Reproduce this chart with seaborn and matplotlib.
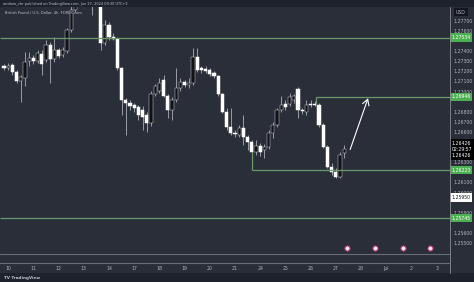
import matplotlib
matplotlib.use("Agg")
import matplotlib.pyplot as plt
import matplotlib.transforms as mtransforms
import numpy as np
import pandas as pd
import seaborn as sns

# ---------------- data ----------------
opens = [1.2725, 1.2723, 1.2726, 1.2719, 1.2710, 1.2713, 1.2730, 1.2733, 1.2730, 1.2737,
         1.2731, 1.2746, 1.2732, 1.2741, 1.2736, 1.2740, 1.2761, 1.2781, 1.2806, 1.2796,
         1.2820, 1.2801, 1.2791, 1.2810, 1.2748, 1.2766, 1.2754, 1.2752, 1.2723, 1.2692,
         1.2689, 1.2687, 1.2685, 1.2682, 1.2677, 1.2669, 1.2698, 1.2701, 1.2711, 1.2696,
         1.2682, 1.2692, 1.2703, 1.2709, 1.2706, 1.2708, 1.2734, 1.2723, 1.2722, 1.2721,
         1.2718, 1.2715, 1.2698, 1.2680, 1.2665, 1.2659, 1.2657, 1.2664, 1.2655, 1.2650,
         1.2640, 1.2646, 1.2642, 1.2645, 1.2659, 1.2667, 1.2682, 1.2688, 1.2688, 1.2692,
         1.2702, 1.2682, 1.2680, 1.2688, 1.2688, 1.2687, 1.2667, 1.2645, 1.2625, 1.2620,
         1.2615, 1.2639]
closes = [1.2723, 1.2725, 1.2719, 1.2710, 1.2714, 1.2729, 1.2733, 1.2730, 1.2738, 1.2727,
          1.2746, 1.2732, 1.2741, 1.2735, 1.2741, 1.2761, 1.2781, 1.2806, 1.2796, 1.2820,
          1.2801, 1.2786, 1.2810, 1.2748, 1.2766, 1.2754, 1.2752, 1.2723, 1.2692, 1.2689,
          1.2686, 1.2684, 1.2677, 1.2675, 1.2669, 1.2698, 1.2705, 1.2708, 1.2696, 1.2682,
          1.2692, 1.2703, 1.2709, 1.2706, 1.2708, 1.2734, 1.2721, 1.2721, 1.2720, 1.2717,
          1.2715, 1.2698, 1.2680, 1.2665, 1.2659, 1.2658, 1.2664, 1.2655, 1.2650, 1.2640,
          1.2646, 1.2640, 1.2645, 1.2659, 1.2667, 1.2682, 1.2687, 1.2685, 1.2695, 1.2696,
          1.2682, 1.2681, 1.2687, 1.2687, 1.2687, 1.2667, 1.2645, 1.2625, 1.2620, 1.2615,
          1.2637, 1.2643]
highs = [1.2727, 1.2728, 1.2728, 1.2721, 1.2716, 1.2739, 1.2739, 1.2736, 1.2741, 1.2741,
         1.2751, 1.2749, 1.2754, 1.2743, 1.2744, 1.2763, 1.2786, 1.2810, 1.2815, 1.2830,
         1.2835, 1.2806, 1.2820, 1.2815, 1.2771, 1.2769, 1.2758, 1.2754, 1.2724, 1.2694,
         1.2692, 1.2689, 1.2687, 1.2686, 1.2680, 1.2701, 1.2707, 1.2713, 1.2716, 1.2698,
         1.2695, 1.2723, 1.2713, 1.2711, 1.2713, 1.2743, 1.2743, 1.2725, 1.2725, 1.2723,
         1.2720, 1.2716, 1.2699, 1.2684, 1.2684, 1.2662, 1.2667, 1.2677, 1.2657, 1.2652,
         1.2652, 1.2649, 1.2648, 1.2662, 1.2670, 1.2684, 1.2696, 1.2692, 1.2699, 1.2698,
         1.2704, 1.2684, 1.2692, 1.2692, 1.2691, 1.2689, 1.2669, 1.2647, 1.2629, 1.2624,
         1.2640, 1.2647]
lows = [1.2721, 1.2721, 1.2716, 1.2708, 1.2690, 1.2705, 1.2725, 1.2727, 1.2728, 1.2716,
        1.2729, 1.2708, 1.2729, 1.2733, 1.2734, 1.2738, 1.2759, 1.2779, 1.2791, 1.2794,
        1.2793, 1.2776, 1.2788, 1.2741, 1.2746, 1.2751, 1.2751, 1.2721, 1.2677, 1.2657,
        1.2682, 1.2680, 1.2672, 1.2662, 1.2660, 1.2666, 1.2696, 1.2699, 1.2695, 1.2674,
        1.2672, 1.2690, 1.2701, 1.2704, 1.2703, 1.2706, 1.2719, 1.2718, 1.2718, 1.2715,
        1.2713, 1.2696, 1.2679, 1.2662, 1.2657, 1.2655, 1.2655, 1.2647, 1.2642, 1.2634,
        1.2637, 1.2636, 1.2634, 1.2643, 1.2654, 1.2665, 1.2680, 1.2682, 1.2686, 1.2689,
        1.2674, 1.2678, 1.2677, 1.2685, 1.2686, 1.2665, 1.2644, 1.2624, 1.2617, 1.2614,
        1.2614, 1.2634]

day_labels = ["10", "11", "12", "13", "14", "17", "18", "19", "20", "21",
              "24", "25", "26", "27", "28", "Jul", "2", "3"]
price_ticks = [1.255, 1.256, 1.258, 1.260, 1.261, 1.263,
               1.266, 1.267, 1.268, 1.270, 1.271, 1.272, 1.273, 1.274,
               1.276, 1.277]
levels = [1.27534, 1.26946, 1.26223, 1.25745]
level_starts = [-1.0, 74.3, 59.0, -1.0]
current_price = 1.26426
countdown = "02:29:57"
white_label = 1.25950
bottom_line = 1.25391
event_bars = [81.6, 88.3, 95.0, 101.4]
arrow_from = (82.2, 1.2640)
arrow_to = (86.9, 1.2696)

# ---------------- styling ----------------
sns.set_theme(style="dark")
plt.rcParams['font.family'] = ['DejaVu Sans']

BG = '#2a2e39'
DARK = '#1e222d'
TXT = '#b2b5be'
GREEN_LINE = '#6b9a6b'
GREEN_BOX = '#4caf50'

W, H = 474, 282
fig = plt.figure(figsize=(W / 100, H / 100), dpi=100)
fig.patch.set_facecolor(BG)

# header and footer bands
fig.patches.append(plt.Rectangle((0, 1 - 7 / H), 1, 7 / H, transform=fig.transFigure,
                                 facecolor=DARK, edgecolor='none', zorder=0))
fig.patches.append(plt.Rectangle((0, 0), 1, 9 / H, transform=fig.transFigure,
                                 facecolor=DARK, edgecolor='none', zorder=0))

ax = fig.add_axes([0, (H - 263) / H, 450 / W, (263 - 7) / H])
ax.set_facecolor(BG)

n = len(opens)
df = pd.DataFrame({"idx": np.arange(n), "open": opens, "close": closes,
                   "high": highs, "low": lows})
df["up"] = df["close"] >= df["open"]

# wicks
ax.vlines(df["idx"], df["low"], df["high"], color='#9a9da6', lw=0.7, zorder=2)
# bodies
bw = 0.72
for _, r in df.iterrows():
    lo = min(r.open, r.close)
    h = max(abs(r.close - r.open), 0.00008)
    if r.up:
        ax.add_patch(plt.Rectangle((r.idx - bw / 2, lo), bw, h, facecolor='#101216',
                                   edgecolor='#c8cad0', lw=0.35, zorder=3))
    else:
        ax.add_patch(plt.Rectangle((r.idx - bw / 2, lo), bw, h, facecolor='#ffffff',
                                   edgecolor='#ffffff', lw=0.35, zorder=3))

xmin, xmax = (0 - 4) / 4.2, (450 - 4) / 4.2
ymax = 1.27906 - 0.000099 * 7
ymin = 1.27906 - 0.000099 * 263
ax.set_xlim(xmin, xmax)
ax.set_ylim(ymin, ymax)

# horizontal levels
for lv, st in zip(levels, level_starts):
    ax.hlines(lv, st, xmax + 1, color=GREEN_LINE, lw=0.9, zorder=4)
# small vertical connectors on the partial levels
ax.vlines(59.0, levels[2], 1.2640, color=GREEN_LINE, lw=0.9, zorder=4)
ax.vlines(74.3, levels[1], 1.2688, color=GREEN_LINE, lw=0.9, zorder=4)

ax.axhline(bottom_line, color='#6a6d78', lw=0.8, zorder=1)

# arrow
ax.annotate("", xy=arrow_to, xytext=arrow_from,
            arrowprops=dict(arrowstyle='->,head_length=0.35,head_width=0.2',
                            color='white', lw=0.8), zorder=6)

# event markers
ev = pd.DataFrame({"x": event_bars, "y": [bottom_line + 0.00055] * len(event_bars)})
sns.scatterplot(data=ev, x="x", y="y", ax=ax, s=14, color='#f3e6ee',
                edgecolor='#b0306a', linewidth=0.8, zorder=7, legend=False)
ax.set_xlabel("")
ax.set_ylabel("")

# axes ticks
ax.yaxis.tick_right()
ax.set_yticks(price_ticks)
ax.set_yticklabels([f"{p:.5f}" for p in price_ticks])
ax.tick_params(axis='y', length=0, pad=2.5, labelsize=3.3, labelcolor=TXT)
day_pos = [1 + 6 * k for k in range(len(day_labels))]
ax.set_xticks(day_pos)
ax.set_xticklabels(day_labels)
ax.tick_params(axis='x', length=0, pad=2.4, labelsize=3.3, labelcolor=TXT)
ax.grid(False)
for s in ax.spines.values():
    s.set_visible(False)

# separators
fig.add_artist(plt.Line2D([450 / W, 450 / W], [9 / H, 1 - 7 / H], transform=fig.transFigure,
                          color='#8a8d96', lw=0.6))
fig.add_artist(plt.Line2D([0, 450 / W], [(H - 263) / H] * 2, transform=fig.transFigure,
                          color='#6a6d78', lw=0.8))

# price labels on the axis
trans = mtransforms.blended_transform_factory(ax.transAxes, ax.transData)
for lv in levels:
    ax.text(1.003, lv, f"{lv:.5f}", transform=trans, ha='left', va='center',
            fontsize=3.3, color='white', clip_on=False, zorder=10,
            bbox=dict(boxstyle='square,pad=0.35', fc=GREEN_BOX, ec='none'))
ax.text(1.003, current_price, f"{current_price:.5f}\n{countdown}\n{current_price:.5f}",
        transform=trans, ha='left', va='center', fontsize=3.3, color='white',
        clip_on=False, zorder=10, linespacing=1.25,
        bbox=dict(boxstyle='square,pad=0.4', fc='#000000', ec='none'))
ax.text(1.003, white_label, f"{white_label:.5f}", transform=trans, ha='left', va='center',
        fontsize=3.3, color='#131722', clip_on=False, zorder=10,
        bbox=dict(boxstyle='square,pad=0.35', fc='white', ec='none'))
fig.text(456 / W, 1 - 12 / H, "USD", fontsize=3.3, color=TXT, ha='left', va='center',
         bbox=dict(boxstyle='square,pad=0.4', fc='#131722', ec='none'))

# header texts
fig.text(3 / W, 1 - 3.8 / H, "andrew_vhr published on TradingView.com, Jun 27, 2024 09:30 UTC+3",
         fontsize=2.5, color='#c0c3cc', ha='left', va='center')
fig.text(5 / W, 1 - 12.5 / H, "British Pound / U.S. Dollar, 4h, FOREX.com",
         fontsize=2.6, color='#c0c3cc', ha='left', va='center')
fig.text(4 / W, 4.5 / H, "TV TradingView", fontsize=3.0, color='#c0c3cc',
         ha='left', va='center', fontweight='bold')

fig.savefig("out.png", dpi=100, facecolor=fig.get_facecolor())
